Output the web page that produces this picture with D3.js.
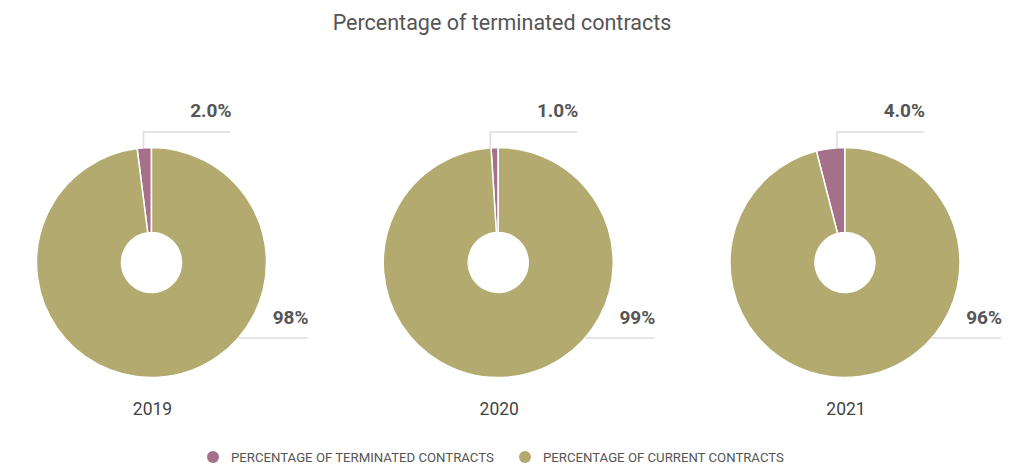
<!DOCTYPE html>
<html>
<head>
<meta charset="utf-8">
<script src="https://cdn.jsdelivr.net/npm/d3@7"></script>
<style>
  body { margin: 0; background: #fff; }
  svg text { font-family: Roboto, "Open Sans", sans-serif; }
</style>
</head>
<body>
<div id="chart"></div>
<script>
var years = ['2019', '2020', '2021'];
var terminated = [2.0, 1.0, 4.0];
var current = [98, 99, 96];
var seriesNames = ['PERCENTAGE OF TERMINATED CONTRACTS', 'PERCENTAGE OF CURRENT CONTRACTS'];
var seriesColors = ['#a4708a', '#b2aa6e'];

var width = 1036;
var height = 465;
var cy = 262.5;
var outerR = 115;
var innerR = 30;

var svg = d3.select('#chart')
	.append('svg')
	.attr('width', width)
	.attr('height', height);

// title
svg.append('text')
	.attr('x', 502)
	.attr('y', 30)
	.attr('text-anchor', 'middle')
	.attr('font-size', 21.5)
	.attr('fill', '#555')
	.text('Percentage of terminated contracts');

var x = d3.scalePoint()
	.domain(years)
	.range([151.5, 845]);

var pie = d3.pie()
	.sort(null)
	.startAngle(0)
	.endAngle(-2 * Math.PI)
	.value(function(d){ return d; });

var arc = d3.arc()
	.innerRadius(innerR)
	.outerRadius(outerR);

var fmtSmall = d3.format('.1f');
var fmtBig = d3.format('d');

years.forEach(function(year, i){
	var cx = x(year);
	var g = svg.append('g')
		.attr('transform', 'translate(' + cx + ',' + cy + ')');

	g.selectAll('path')
		.data(pie([terminated[i], current[i]]))
		.enter()
		.append('path')
		.attr('d', arc)
		.attr('fill', function(d, j){ return seriesColors[j]; })
		.attr('stroke', '#fff')
		.attr('stroke-width', 1.5);

	// leader for the terminated share
	var topY = 132;
	g.append('path')
		.attr('d', 'M' + (-8) + ',' + (-outerR + 1) + 'V' + (topY - cy) + 'H79')
		.attr('fill', 'none')
		.attr('stroke', '#dcdcdc')
		.attr('stroke-width', 1.5);

	g.append('text')
		.attr('x', 80)
		.attr('y', 117 - cy)
		.attr('text-anchor', 'end')
		.attr('font-size', 19)
		.attr('font-weight', 'bold')
		.attr('fill', '#555')
		.text(fmtSmall(terminated[i]) + '%');

	// leader for the current share
	var dy = 75.5;
	var x0 = Math.sqrt(outerR * outerR - dy * dy);
	g.append('line')
		.attr('x1', x0)
		.attr('x2', 156)
		.attr('y1', dy)
		.attr('y2', dy)
		.attr('stroke', '#dcdcdc')
		.attr('stroke-width', 1.5);

	g.append('text')
		.attr('x', 157)
		.attr('y', 323.5 - cy)
		.attr('text-anchor', 'end')
		.attr('font-size', 19)
		.attr('font-weight', 'bold')
		.attr('fill', '#555')
		.text(fmtBig(current[i]) + '%');

	// year label
	svg.append('text')
		.attr('x', cx + 1)
		.attr('y', 415)
		.attr('text-anchor', 'middle')
		.attr('font-size', 17.5)
		.attr('fill', '#444')
		.text(year);
});

// legend
var legendX = [213, 525];
var legend = svg.selectAll('.legend')
	.data(seriesNames)
	.enter()
	.append('g')
	.attr('class', 'legend')
	.attr('transform', function(d, i){ return 'translate(' + legendX[i] + ',457)'; });

legend.append('circle')
	.attr('r', 6)
	.attr('fill', function(d, i){ return seriesColors[i]; });

legend.append('text')
	.attr('x', 18)
	.attr('y', 4.5)
	.attr('font-size', 13.2)
	.attr('fill', '#555')
	.text(function(d){ return d; });
</script>
</body>
</html>
